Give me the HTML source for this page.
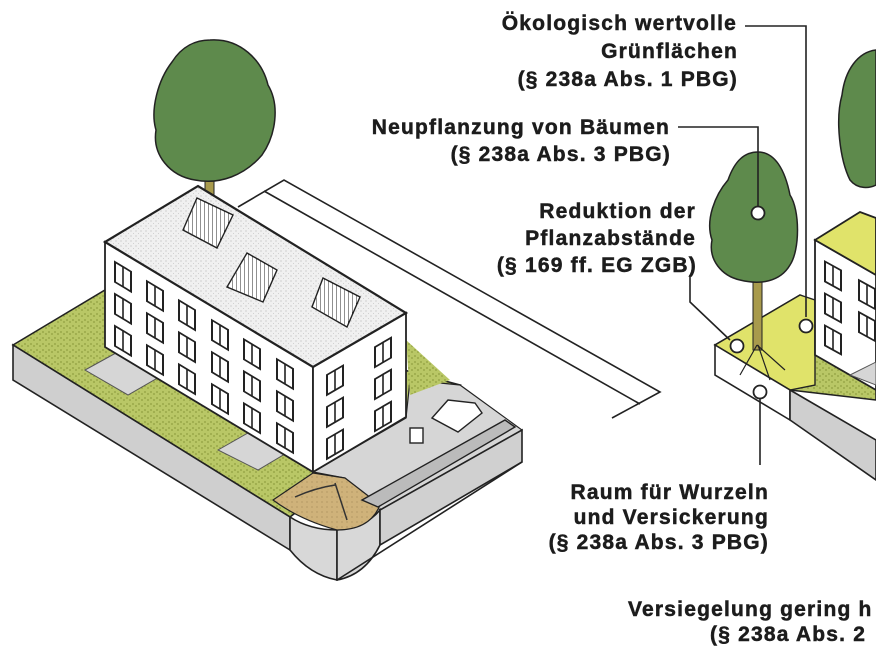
<!DOCTYPE html>
<html><head><meta charset="utf-8"><style>
html,body{margin:0;padding:0;background:#fff;}
svg{display:block;}
text{font-family:"Liberation Sans",Arial,sans-serif;font-weight:bold;font-size:21px;letter-spacing:1.2px;fill:#1c1c1c;stroke:#1c1c1c;stroke-width:0.5px;}
</style></head><body>
<svg width="876" height="657" viewBox="0 0 876 657" xmlns="http://www.w3.org/2000/svg">
<defs>
<pattern id="grass" width="6" height="6" patternUnits="userSpaceOnUse"><rect width="6" height="6" fill="#b9c766"/><path d="M1 1v2M4 3v2" stroke="#7d8c2e" stroke-width="0.8"/></pattern>
<pattern id="roof" width="5" height="5" patternUnits="userSpaceOnUse"><rect width="5" height="5" fill="#f0f0f0"/><circle cx="1" cy="1" r="0.5" fill="#999"/><circle cx="3.5" cy="3.5" r="0.4" fill="#aaa"/></pattern>
<pattern id="sand" width="5" height="5" patternUnits="userSpaceOnUse"><rect width="5" height="5" fill="#cfb27a"/><circle cx="2" cy="2" r="0.5" fill="#8c7444"/></pattern>
<pattern id="hatch" width="4" height="4" patternUnits="userSpaceOnUse"><rect width="4" height="4" fill="#fff"/><path d="M0 0v4" stroke="#222" stroke-width="1"/></pattern>
<g id="win"><rect x="0" y="0" width="16" height="20" fill="#fff" stroke="#222" stroke-width="2"/><line x1="8" y1="0" x2="8" y2="20" stroke="#222" stroke-width="1.6"/></g>
</defs>

<!-- street lines -->
<g stroke="#222" stroke-width="1.6" fill="none">
<path d="M238 207 L284 180 L660 392 L612 418"/>
<path d="M264 191 L640 404"/>
</g>

<!-- left platform top -->
<path d="M13 345 L105 290 L460 385 L290 517 Z" fill="url(#grass)" stroke="#222" stroke-width="1.6"/>
<!-- courtyard -->
<path d="M313 472 L406 418 L410 380 L460 385 L522 430 L380 510 L345 478 Z" fill="#d6d6d6" stroke="#222" stroke-width="1.2"/>
<path d="M406 340 L450 380 L410 395 Z" fill="url(#grass)"/>
<!-- side faces -->
<path d="M13 345 L13 380 L290 550 L290 517 Z" fill="#cfcfcf" stroke="#222" stroke-width="1.6"/>
<path d="M290 517 Q310 530 337 530 L337 580 Q310 575 290 550 Z" fill="#d8d8d8" stroke="#222" stroke-width="1.6"/>
<path d="M337 530 Q365 528 380 510 L380 545 Q365 575 337 580 Z" fill="#d8d8d8" stroke="#222" stroke-width="1.6"/>
<path d="M380 510 L522 430 L522 462 L380 545 Z" fill="#d0d0d0" stroke="#222" stroke-width="1.6"/>
<path d="M337 580 L522 462" fill="none" stroke="#222" stroke-width="1.6"/>
<!-- paved areas -->
<path d="M85 370 L125 348 L168 372 L128 395 Z" fill="#d6d6d6" stroke="#555" stroke-width="1"/>
<path d="M218 450 L262 425 L300 445 L258 470 Z" fill="#d6d6d6" stroke="#555" stroke-width="1"/>
<!-- sandbox -->
<path d="M273 500 L313 473 L345 478 L380 505 Q370 530 337 530 Q300 520 273 500 Z" fill="url(#sand)" stroke="#222" stroke-width="1.2"/>
<path d="M295 497 Q315 488 335 485 M335 483 L347 520" stroke="#333" stroke-width="1.5" fill="none"/>
<!-- ramp -->
<path d="M362 500 L505 420 L515 427 L378 507 Z" fill="#bbb" stroke="#222" stroke-width="1.4"/>
<!-- car + bin -->
<rect x="410" y="428" width="13" height="15" fill="#fff" stroke="#222" stroke-width="1.4"/>
<path d="M432 418 L448 400 L475 403 L482 413 L458 432 Z" fill="#fff" stroke="#222" stroke-width="1.4"/>

<!-- left tree -->
<rect x="205" y="160" width="9" height="40" fill="#a89a4c" stroke="#222" stroke-width="1"/>
<path d="M210 40 C240 38 262 60 268 85 C280 105 276 135 262 155 C245 175 220 185 195 180 C170 176 152 155 156 130 C150 110 158 80 172 62 C182 46 196 40 210 40 Z" fill="#5e8a4c" stroke="#222" stroke-width="1.5"/>

<!-- building -->
<path d="M105 242 L313 367 L313 472 L105 347 Z" fill="#fff" stroke="#222" stroke-width="1.8"/>
<path d="M313 367 L406 313 L406 417 L313 472 Z" fill="#fff" stroke="#222" stroke-width="1.8"/>
<path d="M105 242 L198 186 L406 313 L313 367 Z" fill="url(#roof)" stroke="#222" stroke-width="2.2"/>
<!-- solar panels -->
<path d="M197 198 L233 215 L217 248 L183 230 Z" fill="url(#hatch)" stroke="#222" stroke-width="1.4"/>
<path d="M247 253 L277 270 L263 302 L227 287 Z" fill="url(#hatch)" stroke="#222" stroke-width="1.4"/>
<path d="M323 278 L360 297 L347 327 L312 307 Z" fill="url(#hatch)" stroke="#222" stroke-width="1.4"/>
<!-- windows front -->
<g transform="matrix(1,0.6,0,1,105,242)">
<use href="#win" x="10" y="14"/><use href="#win" x="10" y="46"/><use href="#win" x="10" y="78"/>
<use href="#win" x="42" y="14"/><use href="#win" x="42" y="46"/><use href="#win" x="42" y="78"/>
<use href="#win" x="74" y="14"/><use href="#win" x="74" y="46"/><use href="#win" x="74" y="78"/>
<use href="#win" x="107" y="14"/><use href="#win" x="107" y="46"/><use href="#win" x="107" y="78"/>
<use href="#win" x="139" y="14"/><use href="#win" x="139" y="46"/><use href="#win" x="139" y="78"/>
<use href="#win" x="172" y="14"/><use href="#win" x="172" y="46"/><use href="#win" x="172" y="78"/>
</g>
<g transform="matrix(1,-0.58,0,1,313,367)">
<use href="#win" x="14" y="16"/><use href="#win" x="14" y="48"/><use href="#win" x="14" y="80"/>
<use href="#win" x="62" y="16"/><use href="#win" x="62" y="48"/><use href="#win" x="62" y="80"/>
</g>

<!-- right tree (partial) -->
<path d="M876 50 C858 52 845 70 842 95 C835 120 840 160 850 180 C858 190 870 188 876 185 Z" fill="#5e8a4c" stroke="#222" stroke-width="1.5"/>

<!-- right platform -->
<path d="M715 345 L800 295 L876 330 L876 400 L790 390 Z" fill="url(#grass)" stroke="#222" stroke-width="1.6"/>
<path d="M715 345 L800 295 L815 300 L815 385 L790 390 Z" fill="#e0e36a" stroke="#222" stroke-width="1.4"/>
<path d="M715 345 L715 375 L790 420 L790 390 Z" fill="#fff" stroke="#222" stroke-width="1.6"/>
<path d="M790 390 L876 440 L876 480 L790 420 Z" fill="#cfcfcf" stroke="#222" stroke-width="1.6"/>
<!-- right building -->
<path d="M815 240 L876 275 L876 390 L815 355 Z" fill="#fff" stroke="#222" stroke-width="1.8"/>
<path d="M815 240 L860 212 L876 218 L876 275 Z" fill="#e0e36a" stroke="#222" stroke-width="1.8"/>
<g transform="matrix(1,0.55,0,1,815,240)"><use href="#win" x="10" y="16"/><use href="#win" x="10" y="48"/><use href="#win" x="10" y="80"/><use href="#win" x="44" y="16"/><use href="#win" x="44" y="48"/></g>
<path d="M850 375 L876 362 L876 385 Z" fill="#d6d6d6" stroke="#555"/>
<!-- new tree -->
<rect x="753" y="275" width="9" height="75" fill="#a89a4c" stroke="#222" stroke-width="1"/>
<path d="M758 152 C775 152 785 170 790 195 C800 210 800 250 790 265 C780 282 760 285 740 280 C722 276 708 260 712 240 C705 220 715 195 728 180 C735 160 745 152 758 152 Z" fill="#5e8a4c" stroke="#222" stroke-width="1.5"/>
<path d="M757 345 L740 375 M758 345 L770 380 M757 345 L785 370" stroke="#222" stroke-width="1.2" fill="none"/>

<!-- connectors -->
<g stroke="#222" stroke-width="1.6" fill="none">
<path d="M745 26 H806 V317"/>
<path d="M678 127 H758 V206"/>
<path d="M690 275 V302 L730 340"/>
<path d="M760 465 V399"/>
</g>
<g fill="#fff" stroke="#222" stroke-width="1.8">
<circle cx="806" cy="326" r="6.5"/><circle cx="758" cy="213" r="6.5"/><circle cx="737" cy="346" r="6.5"/><circle cx="760" cy="392" r="6.5"/>
</g>

<!-- labels -->
<g text-anchor="end">
<text x="737" y="30">Ökologisch wertvolle</text>
<text x="738" y="58">Grünflächen</text>
<text x="738" y="86">(§ 238a Abs. 1 PBG)</text>
<text x="670" y="134">Neupflanzung von Bäumen</text>
<text x="671" y="161">(§ 238a Abs. 3 PBG)</text>
<text x="696" y="218">Reduktion der</text>
<text x="696" y="245">Pflanzabstände</text>
<text x="697" y="272">(§ 169 ff. EG ZGB)</text>
<text x="769" y="499">Raum für Wurzeln</text>
<text x="769" y="524">und Versickerung</text>
<text x="769" y="549">(§ 238a Abs. 3 PBG)</text>
</g>
<text x="628" y="616">Versiegelung gering h</text>
<text x="710" y="641">(§ 238a Abs. 2</text>
</svg>
</body></html>
